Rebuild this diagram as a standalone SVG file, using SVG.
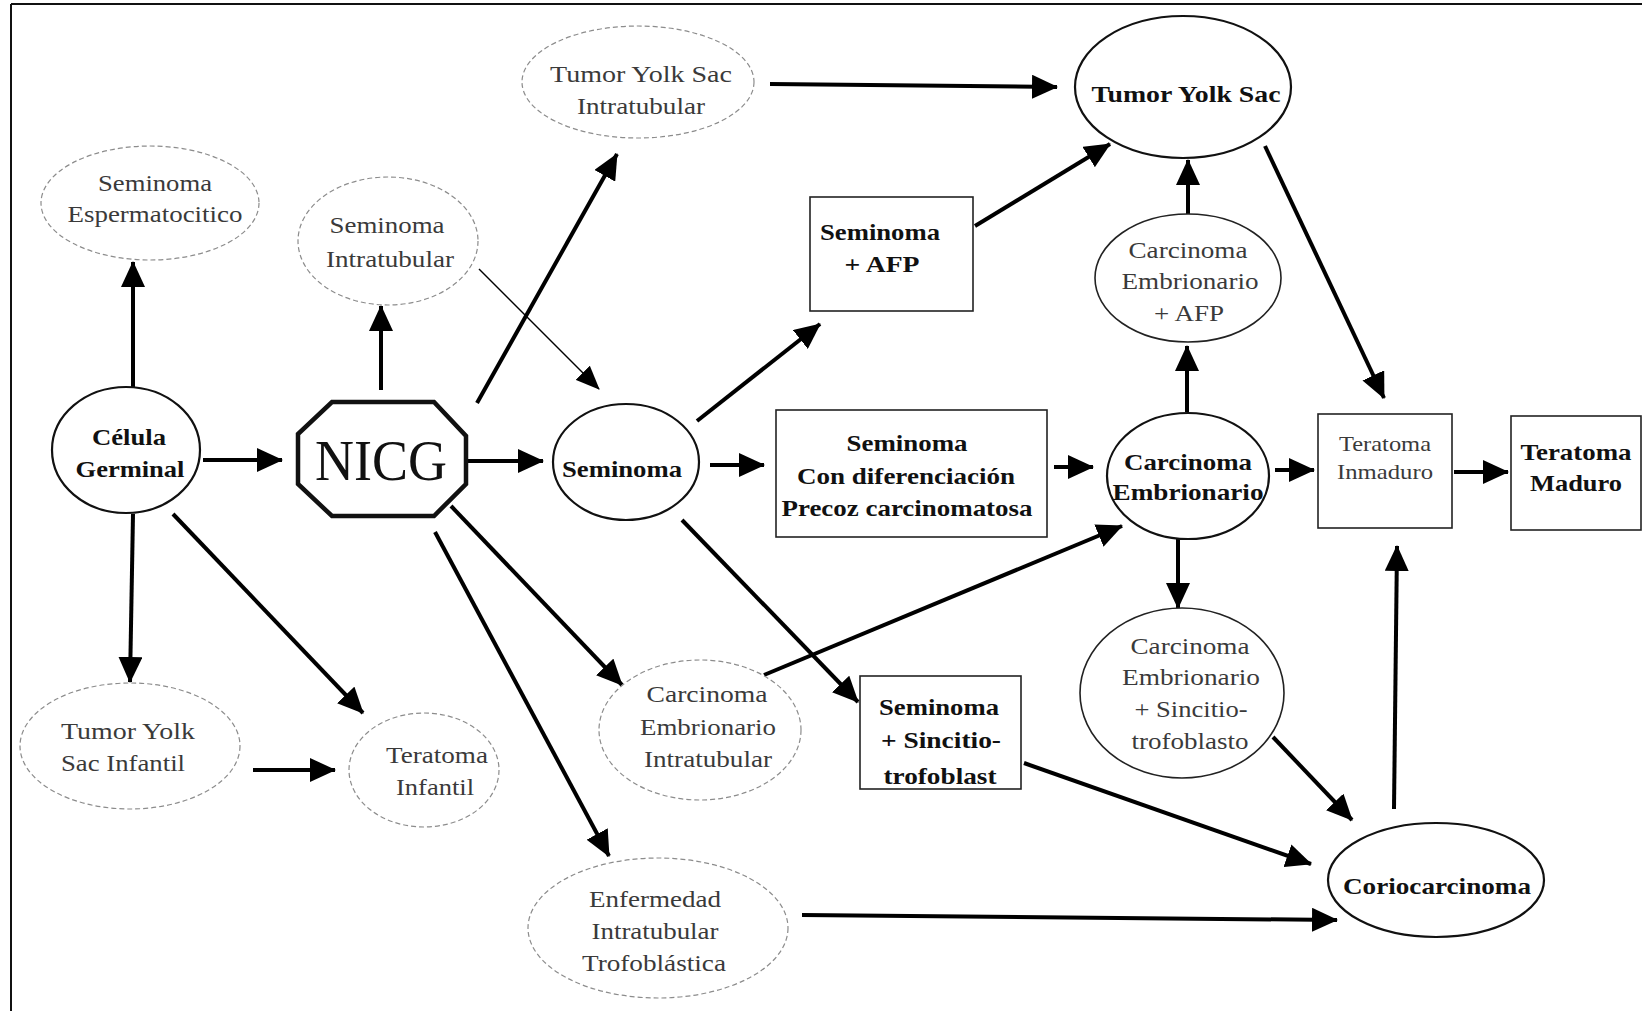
<svg xmlns="http://www.w3.org/2000/svg" width="1642" height="1011" viewBox="0 0 1642 1011">
<style>
.t{font-family:"Liberation Serif","Times New Roman",serif;font-size:24px;text-anchor:middle}
.g{fill:#3a3a3a}
.b{font-weight:bold;fill:#111}
.lt{fill:#fff;stroke:#8c8c8c;stroke-width:1.2;stroke-dasharray:5 3}
.sd{fill:#fff;stroke:#222;stroke-width:1.6}
.bd{fill:#fff;stroke:#111;stroke-width:2.2}
.k{stroke:#000;stroke-width:4;fill:none;marker-end:url(#ah)}
.n{stroke:#000;stroke-width:1.5;fill:none;marker-end:url(#ahs)}
</style>
<defs>
<marker id="ah" markerUnits="userSpaceOnUse" markerWidth="26" markerHeight="24" refX="25" refY="12" orient="auto" viewBox="0 0 26 24">
<path d="M0,0 L26,12 L0,24 z" fill="#000"/>
</marker>
<marker id="ahs" markerUnits="userSpaceOnUse" markerWidth="24" markerHeight="20" refX="23" refY="10" orient="auto" viewBox="0 0 24 20">
<path d="M0,0 L24,10 L0,20 z" fill="#000"/>
</marker>
</defs>
<rect x="0" y="0" width="1642" height="1011" fill="#fff"/>
<g id="frame" stroke="#111" stroke-width="2">
<line x1="11" y1="4" x2="11" y2="1011"/>
<line x1="11" y1="4" x2="1642" y2="4"/>
</g>

<g id="connectors">
<line class="k" x1="133" y1="387" x2="133" y2="262"/>
<line class="k" x1="203" y1="460" x2="282" y2="460"/>
<line class="k" x1="133" y1="514" x2="130" y2="682"/>
<line class="k" x1="173" y1="514" x2="363" y2="713"/>
<line class="k" x1="253" y1="770" x2="335" y2="770"/>
<line class="k" x1="381" y1="390" x2="381" y2="306"/>
<line class="k" x1="477" y1="403" x2="617" y2="154"/>
<line class="k" x1="467" y1="461" x2="543" y2="461"/>
<line class="k" x1="451" y1="506" x2="622" y2="685"/>
<line class="k" x1="435" y1="532" x2="609" y2="856"/>
<line class="n" x1="479" y1="269" x2="599" y2="389"/>
<line class="k" x1="770" y1="84" x2="1057" y2="87"/>
<line class="k" x1="697" y1="421" x2="820" y2="324"/>
<line class="k" x1="710" y1="465" x2="764" y2="465"/>
<line class="k" x1="682" y1="520" x2="858" y2="702"/>
<line class="k" x1="975" y1="226" x2="1110" y2="144"/>
<line class="k" x1="1054" y1="467" x2="1093" y2="467"/>
<line class="k" x1="764" y1="675" x2="1122" y2="526"/>
<line class="k" x1="1187" y1="412" x2="1187" y2="346"/>
<line class="k" x1="1188" y1="214" x2="1188" y2="160"/>
<line class="k" x1="1265" y1="146" x2="1384" y2="398"/>
<line class="k" x1="1275" y1="470" x2="1314" y2="470"/>
<line class="k" x1="1454" y1="472" x2="1508" y2="472"/>
<line class="k" x1="1178" y1="539" x2="1178" y2="608"/>
<line class="k" x1="1273" y1="737" x2="1352" y2="820"/>
<line class="k" x1="1024" y1="763" x2="1311" y2="864"/>
<line class="k" x1="802" y1="915" x2="1337" y2="920"/>
<line class="k" x1="1394" y1="809" x2="1397" y2="546"/>
</g>

<g id="n-espermatocitico">
<ellipse class="lt" cx="150" cy="203" rx="109" ry="57"/>
<text class="t g" x="155" y="191" textLength="114" lengthAdjust="spacingAndGlyphs">Seminoma</text>
<text class="t g" x="155" y="222" textLength="175" lengthAdjust="spacingAndGlyphs">Espermatocitico</text>
</g>
<g id="n-sem-intratubular">
<ellipse class="lt" cx="388" cy="241" rx="90" ry="64"/>
<text class="t g" x="387" y="233" textLength="115" lengthAdjust="spacingAndGlyphs">Seminoma</text>
<text class="t g" x="390" y="267" textLength="128" lengthAdjust="spacingAndGlyphs">Intratubular</text>
</g>
<g id="n-tys-intratubular">
<ellipse class="lt" cx="638" cy="82" rx="116" ry="56"/>
<text class="t g" x="641" y="82" textLength="182" lengthAdjust="spacingAndGlyphs">Tumor Yolk Sac</text>
<text class="t g" x="641" y="114" textLength="128" lengthAdjust="spacingAndGlyphs">Intratubular</text>
</g>
<g id="n-celula">
<ellipse class="bd" cx="126" cy="450" rx="74" ry="63"/>
<text class="t b" x="129" y="445" textLength="74" lengthAdjust="spacingAndGlyphs">Célula</text>
<text class="t b" x="130" y="477" textLength="109" lengthAdjust="spacingAndGlyphs">Germinal</text>
</g>
<g id="n-nicg">
<polygon points="332,402 434,402 466,436 466,484 434,516 332,516 298,484 298,434" fill="#fff" stroke="#111" stroke-width="4.5" stroke-linejoin="miter"/>
<text class="t" x="381" y="480" style="font-size:56px" fill="#111" textLength="132" lengthAdjust="spacingAndGlyphs">NICG</text>
</g>
<g id="n-seminoma">
<ellipse class="bd" cx="626" cy="462" rx="73" ry="58"/>
<text class="t b" x="622" y="477" textLength="120" lengthAdjust="spacingAndGlyphs">Seminoma</text>
</g>
<g id="n-sem-afp">
<rect class="sd" x="810" y="197" width="163" height="114"/>
<text class="t b" x="880" y="240" textLength="120" lengthAdjust="spacingAndGlyphs">Seminoma</text>
<text class="t b" x="882" y="272" textLength="75" lengthAdjust="spacingAndGlyphs">+ AFP</text>
</g>
<g id="n-sem-condif">
<rect class="sd" x="776" y="410" width="271" height="127"/>
<text class="t b" x="907" y="451" textLength="121" lengthAdjust="spacingAndGlyphs">Seminoma</text>
<text class="t b" x="906" y="484" textLength="218" lengthAdjust="spacingAndGlyphs">Con diferenciación</text>
<text class="t b" x="907" y="516" textLength="251" lengthAdjust="spacingAndGlyphs">Precoz carcinomatosa</text>
</g>
<g id="n-tys">
<ellipse class="bd" cx="1183" cy="87" rx="108" ry="71"/>
<text class="t b" x="1186" y="102" textLength="189" lengthAdjust="spacingAndGlyphs">Tumor Yolk Sac</text>
</g>
<g id="n-ce-afp">
<ellipse class="sd" cx="1188" cy="278" rx="93" ry="64"/>
<text class="t g" x="1188" y="258" textLength="119" lengthAdjust="spacingAndGlyphs">Carcinoma</text>
<text class="t g" x="1190" y="289" textLength="137" lengthAdjust="spacingAndGlyphs">Embrionario</text>
<text class="t g" x="1189" y="321" textLength="70" lengthAdjust="spacingAndGlyphs">+ AFP</text>
</g>
<g id="n-ce">
<ellipse class="bd" cx="1188" cy="476" rx="81" ry="63"/>
<text class="t b" x="1188" y="470" textLength="128" lengthAdjust="spacingAndGlyphs">Carcinoma</text>
<text class="t b" x="1188" y="500" textLength="151" lengthAdjust="spacingAndGlyphs">Embrionario</text>
</g>
<g id="n-ter-inmaduro">
<rect class="sd" x="1318" y="414" width="134" height="114"/>
<text class="t g" x="1385" y="451" style="font-size:21px" textLength="92" lengthAdjust="spacingAndGlyphs">Teratoma</text>
<text class="t g" x="1385" y="479" style="font-size:21px" textLength="96" lengthAdjust="spacingAndGlyphs">Inmaduro</text>
</g>
<g id="n-ter-maduro">
<rect class="sd" x="1511" y="416" width="130" height="114"/>
<text class="t b" x="1576" y="460" textLength="111" lengthAdjust="spacingAndGlyphs">Teratoma</text>
<text class="t b" x="1576" y="491" textLength="92" lengthAdjust="spacingAndGlyphs">Maduro</text>
</g>
<g id="n-ce-sinc">
<ellipse class="sd" cx="1182" cy="693" rx="102" ry="85"/>
<text class="t g" x="1190" y="654" textLength="119" lengthAdjust="spacingAndGlyphs">Carcinoma</text>
<text class="t g" x="1191" y="685" textLength="138" lengthAdjust="spacingAndGlyphs">Embrionario</text>
<text class="t g" x="1191" y="717" textLength="113" lengthAdjust="spacingAndGlyphs">+ Sincitio-</text>
<text class="t g" x="1190" y="749" textLength="117" lengthAdjust="spacingAndGlyphs">trofoblasto</text>
</g>
<g id="n-corio">
<ellipse class="bd" cx="1436" cy="880" rx="108" ry="57"/>
<text class="t b" x="1437" y="894" textLength="188" lengthAdjust="spacingAndGlyphs">Coriocarcinoma</text>
</g>
<g id="n-sem-sinc">
<rect class="sd" x="860" y="676" width="161" height="113"/>
<text class="t b" x="939" y="715" textLength="120" lengthAdjust="spacingAndGlyphs">Seminoma</text>
<text class="t b" x="941" y="748" textLength="120" lengthAdjust="spacingAndGlyphs">+ Sincitio-</text>
<text class="t b" x="940" y="784" textLength="113" lengthAdjust="spacingAndGlyphs">trofoblast</text>
</g>
<g id="n-ce-intratubular">
<ellipse class="lt" cx="700" cy="730" rx="101" ry="70"/>
<text class="t g" x="707" y="702" textLength="121" lengthAdjust="spacingAndGlyphs">Carcinoma</text>
<text class="t g" x="708" y="735" textLength="136" lengthAdjust="spacingAndGlyphs">Embrionario</text>
<text class="t g" x="708" y="767" textLength="128" lengthAdjust="spacingAndGlyphs">Intratubular</text>
</g>
<g id="n-enfermedad">
<ellipse class="lt" cx="658" cy="928" rx="130" ry="70"/>
<text class="t g" x="655" y="907" textLength="132" lengthAdjust="spacingAndGlyphs">Enfermedad</text>
<text class="t g" x="655" y="939" textLength="127" lengthAdjust="spacingAndGlyphs">Intratubular</text>
<text class="t g" x="654" y="971" textLength="144" lengthAdjust="spacingAndGlyphs">Trofoblástica</text>
</g>
<g id="n-tys-infantil">
<ellipse class="lt" cx="130" cy="746" rx="110" ry="63"/>
<text class="t g" x="128" y="739" textLength="134" lengthAdjust="spacingAndGlyphs">Tumor Yolk</text>
<text class="t g" x="123" y="771" textLength="124" lengthAdjust="spacingAndGlyphs">Sac Infantil</text>
</g>
<g id="n-ter-infantil">
<ellipse class="lt" cx="424" cy="770" rx="75" ry="57"/>
<text class="t g" x="437" y="763" textLength="102" lengthAdjust="spacingAndGlyphs">Teratoma</text>
<text class="t g" x="435" y="795" textLength="78" lengthAdjust="spacingAndGlyphs">Infantil</text>
</g>
</svg>
